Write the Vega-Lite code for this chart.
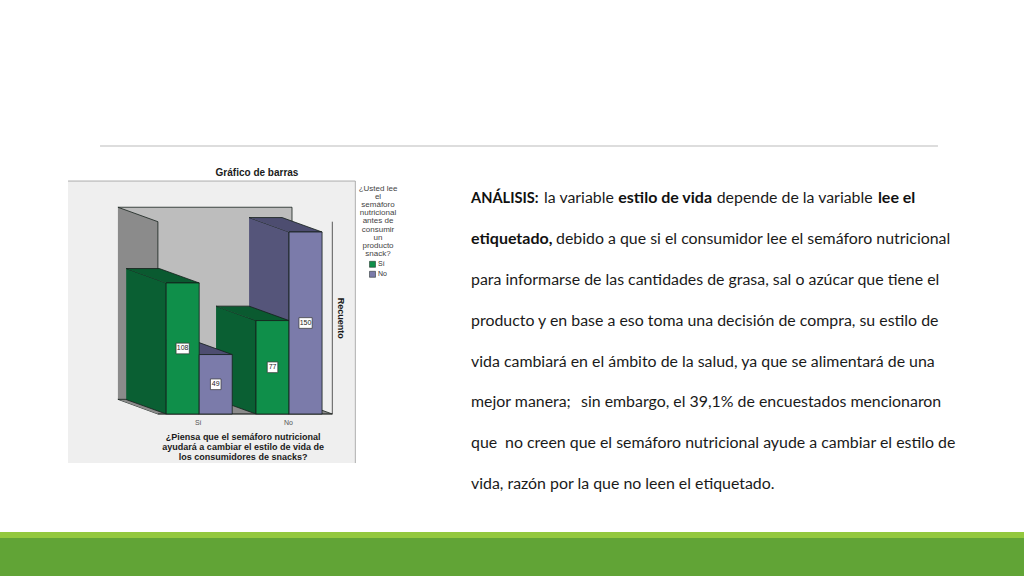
{
  "$schema": "https://vega.github.io/schema/vega-lite/v6.json",
  "width": 1024,
  "height": 576,
  "padding": 0,
  "autosize": "none",
  "background": "white",
  "config": {"view": {"stroke": null}},
  "resolve": {"scale": {"x": "independent", "y": "independent", "fill": "independent", "stroke": "independent"}},
  "datasets": {
    "barras": [
      {"pregunta": "Sí", "lee": "Sí", "recuento": 108, "mitad": 54, "inicio": 0, "fin": 1, "centro": 0.5, "cajaIni": 0.3, "cajaFin": 0.7, "cajaAba": 49.6, "cajaArr": 58.4},
      {"pregunta": "Sí", "lee": "No", "recuento": 49, "mitad": 24.5, "inicio": 1, "fin": 2, "centro": 1.5, "cajaIni": 1.34, "cajaFin": 1.66, "cajaAba": 20.1, "cajaArr": 28.9},
      {"pregunta": "No", "lee": "Sí", "recuento": 77, "mitad": 38.5, "inicio": 2.72, "fin": 3.72, "centro": 3.22, "cajaIni": 3.06, "cajaFin": 3.38, "cajaAba": 34.1, "cajaArr": 42.9},
      {"pregunta": "No", "lee": "No", "recuento": 150, "mitad": 75, "inicio": 3.72, "fin": 4.72, "centro": 4.22, "cajaIni": 4.02, "cajaFin": 4.42, "cajaAba": 70.6, "cajaArr": 79.4}
    ],
    "caras": [
      {"pieza": "fondo", "cara": "fondo", "orden": 1, "u": -1.46, "c": 170.4},
      {"pieza": "fondo", "cara": "fondo", "orden": 2, "u": 3.81, "c": 170.4},
      {"pieza": "fondo", "cara": "fondo", "orden": 3, "u": 3.81, "c": 12.1},
      {"pieza": "fondo", "cara": "fondo", "orden": 4, "u": -1.46, "c": 12.1},
      {"pieza": "pared", "cara": "pared", "orden": 1, "u": -1.46, "c": 170.4},
      {"pieza": "pared", "cara": "pared", "orden": 2, "u": -0.25, "c": 158.5},
      {"pieza": "pared", "cara": "pared", "orden": 3, "u": -0.25, "c": 0},
      {"pieza": "pared", "cara": "pared", "orden": 4, "u": -1.46, "c": 12.1},
      {"pieza": "piso", "cara": "piso", "orden": 1, "u": -1.46, "c": 12.1},
      {"pieza": "piso", "cara": "piso", "orden": 2, "u": 3.81, "c": 12.1},
      {"pieza": "piso", "cara": "piso", "orden": 3, "u": 5.03, "c": 0},
      {"pieza": "piso", "cara": "piso", "orden": 4, "u": -0.25, "c": 0},
      {"pieza": "150 lado", "cara": "morado lado", "orden": 1, "u": 2.51, "c": 11.9},
      {"pieza": "150 lado", "cara": "morado lado", "orden": 2, "u": 3.72, "c": 0},
      {"pieza": "150 lado", "cara": "morado lado", "orden": 3, "u": 3.72, "c": 150},
      {"pieza": "150 lado", "cara": "morado lado", "orden": 4, "u": 2.51, "c": 161.9},
      {"pieza": "150 tapa", "cara": "morado tapa", "orden": 1, "u": 2.51, "c": 161.9},
      {"pieza": "150 tapa", "cara": "morado tapa", "orden": 2, "u": 3.51, "c": 161.9},
      {"pieza": "150 tapa", "cara": "morado tapa", "orden": 3, "u": 4.72, "c": 150},
      {"pieza": "150 tapa", "cara": "morado tapa", "orden": 4, "u": 3.72, "c": 150},
      {"pieza": "77 lado", "cara": "verde lado", "orden": 1, "u": 1.51, "c": 11.9},
      {"pieza": "77 lado", "cara": "verde lado", "orden": 2, "u": 2.72, "c": 0},
      {"pieza": "77 lado", "cara": "verde lado", "orden": 3, "u": 2.72, "c": 77},
      {"pieza": "77 lado", "cara": "verde lado", "orden": 4, "u": 1.51, "c": 88.9},
      {"pieza": "77 tapa", "cara": "verde tapa", "orden": 1, "u": 1.51, "c": 88.9},
      {"pieza": "77 tapa", "cara": "verde tapa", "orden": 2, "u": 2.51, "c": 88.9},
      {"pieza": "77 tapa", "cara": "verde tapa", "orden": 3, "u": 3.72, "c": 77},
      {"pieza": "77 tapa", "cara": "verde tapa", "orden": 4, "u": 2.72, "c": 77},
      {"pieza": "49 lado", "cara": "morado lado", "orden": 1, "u": -0.21, "c": 11.9},
      {"pieza": "49 lado", "cara": "morado lado", "orden": 2, "u": 1, "c": 0},
      {"pieza": "49 lado", "cara": "morado lado", "orden": 3, "u": 1, "c": 49},
      {"pieza": "49 lado", "cara": "morado lado", "orden": 4, "u": -0.21, "c": 60.9},
      {"pieza": "49 tapa", "cara": "morado tapa", "orden": 1, "u": -0.21, "c": 60.9},
      {"pieza": "49 tapa", "cara": "morado tapa", "orden": 2, "u": 0.79, "c": 60.9},
      {"pieza": "49 tapa", "cara": "morado tapa", "orden": 3, "u": 2, "c": 49},
      {"pieza": "49 tapa", "cara": "morado tapa", "orden": 4, "u": 1, "c": 49},
      {"pieza": "108 lado", "cara": "verde lado", "orden": 1, "u": -1.21, "c": 11.9},
      {"pieza": "108 lado", "cara": "verde lado", "orden": 2, "u": 0, "c": 0},
      {"pieza": "108 lado", "cara": "verde lado", "orden": 3, "u": 0, "c": 108},
      {"pieza": "108 lado", "cara": "verde lado", "orden": 4, "u": -1.21, "c": 119.9},
      {"pieza": "108 tapa", "cara": "verde tapa", "orden": 1, "u": -1.21, "c": 119.9},
      {"pieza": "108 tapa", "cara": "verde tapa", "orden": 2, "u": -0.21, "c": 119.9},
      {"pieza": "108 tapa", "cara": "verde tapa", "orden": 3, "u": 1, "c": 108},
      {"pieza": "108 tapa", "cara": "verde tapa", "orden": 4, "u": 0, "c": 108}
    ]
  },
  "layer": [
    {
      "data": {"values": [
        {"p": 0, "p2": 100, "q": 92.36, "q2": 93.4, "franja": "clara"},
        {"p": 0, "p2": 100, "q": 93.4, "q2": 100, "franja": "oscura"}
      ]},
      "mark": {"type": "rect"},
      "encoding": {
        "x": {"field": "p", "type": "quantitative", "scale": {"domain": [0, 100]}, "axis": null},
        "x2": {"field": "p2"},
        "y": {"field": "q", "type": "quantitative", "scale": {"domain": [100, 0]}, "axis": null},
        "y2": {"field": "q2"},
        "fill": {"field": "franja", "type": "nominal", "scale": {"domain": ["clara", "oscura"], "range": ["#93c83e", "#61a436"]}, "legend": null}
      }
    },
    {
      "data": {"values": [{"p": 9.77, "p2": 91.6, "q": 25.35}]},
      "mark": {"type": "rule", "stroke": "#d2d2d2", "strokeWidth": 1.5},
      "encoding": {
        "x": {"field": "p", "type": "quantitative", "scale": {"domain": [0, 100]}, "axis": null},
        "x2": {"field": "p2"},
        "y": {"field": "q", "type": "quantitative", "scale": {"domain": [100, 0]}, "axis": null}
      }
    },
    {
      "data": {"values": [{"u": -2.97, "u2": 5.727, "c": 192, "c2": -40.4}]},
      "mark": {"type": "rect", "fill": "#efefef"},
      "encoding": {
        "x": {"field": "u", "type": "quantitative", "scale": {"domain": [-5.0303, 25.9697]}, "axis": null},
        "x2": {"field": "u2"},
        "y": {"field": "c", "type": "quantitative", "scale": {"domain": [-133.5, 341.2]}, "axis": null},
        "y2": {"field": "c2"}
      }
    },
    {
      "data": {"name": "caras"},
      "mark": {"type": "line", "stroke": "#14201a", "strokeWidth": 0.8, "strokeJoin": "miter"},
      "encoding": {
        "x": {"field": "u", "type": "quantitative", "scale": {"domain": [-5.0303, 25.9697]}, "axis": null},
        "y": {"field": "c", "type": "quantitative", "scale": {"domain": [-133.5, 341.2]}, "axis": null},
        "detail": {"field": "pieza"},
        "order": {"field": "orden"},
        "fill": {
          "field": "cara",
          "type": "nominal",
          "scale": {
            "domain": ["fondo", "pared", "piso", "verde lado", "verde tapa", "morado lado", "morado tapa"],
            "range": ["#bdbdbd", "#8b8b8b", "#8b8b8b", "#0a5f33", "#0a5a30", "#55557a", "#4d4d70"]
          },
          "legend": null
        }
      }
    },
    {
      "data": {"values": [
        {"trazo": "panel", "orden": 1, "u": -2.97, "c": 192},
        {"trazo": "panel", "orden": 2, "u": 5.727, "c": 192},
        {"trazo": "panel", "orden": 3, "u": 5.727, "c": -40.4},
        {"trazo": "ejes", "orden": 1, "u": -0.25, "c": 0},
        {"trazo": "ejes", "orden": 2, "u": 5.03, "c": 0},
        {"trazo": "ejes", "orden": 3, "u": 5.03, "c": 158.5}
      ]},
      "mark": {"type": "line", "strokeWidth": 0.8},
      "encoding": {
        "x": {"field": "u", "type": "quantitative", "scale": {"domain": [-5.0303, 25.9697]}, "axis": null},
        "y": {"field": "c", "type": "quantitative", "scale": {"domain": [-133.5, 341.2]}, "axis": null},
        "order": {"field": "orden"},
        "stroke": {"field": "trazo", "type": "nominal", "scale": {"domain": ["panel", "ejes"], "range": ["#9a9a9a", "#333333"]}, "legend": null}
      }
    },
    {
      "data": {"name": "barras"},
      "mark": {"type": "bar", "stroke": "#14201a", "strokeWidth": 0.8},
      "encoding": {
        "x": {"field": "inicio", "type": "quantitative", "scale": {"domain": [-5.0303, 25.9697]}, "axis": null},
        "x2": {"field": "fin"},
        "y": {"field": "recuento", "type": "quantitative", "scale": {"domain": [-133.5, 341.2]}, "axis": null},
        "y2": {"datum": 0},
        "color": {
          "field": "lee",
          "type": "nominal",
          "scale": {"domain": ["Sí", "No"], "range": ["#0f8f4a", "#7b7baa"]},
          "legend": {
            "orient": "none",
            "legendX": 359,
            "legendY": 185,
            "title": ["¿Usted lee", "el", "semáforo", "nutricional", "antes de", "consumir", "un", "producto", "snack?"],
            "titleFont": "Liberation Sans",
            "titleFontSize": 8,
            "titleFontWeight": "normal",
            "titleColor": "#444444",
            "titleLineHeight": 8.1,
            "titleAlign": "center",
            "titleAnchor": "middle",
            "titlePadding": 3,
            "labelFont": "Liberation Sans",
            "labelFontSize": 7,
            "labelColor": "#333333",
            "labelOffset": 2,
            "symbolType": "square",
            "symbolSize": 36,
            "symbolStrokeColor": "#14201a",
            "symbolStrokeWidth": 0.5,
            "rowPadding": 1
          }
        }
      }
    },
    {
      "data": {"name": "barras"},
      "mark": {"type": "rect", "fill": "white", "stroke": "#333333", "strokeWidth": 0.7},
      "encoding": {
        "x": {"field": "cajaIni", "type": "quantitative", "scale": {"domain": [-5.0303, 25.9697]}, "axis": null},
        "x2": {"field": "cajaFin"},
        "y": {"field": "cajaAba", "type": "quantitative", "scale": {"domain": [-133.5, 341.2]}, "axis": null},
        "y2": {"field": "cajaArr"}
      }
    },
    {
      "data": {"name": "barras"},
      "mark": {"type": "text", "font": "Liberation Sans", "fontSize": 7, "color": "#222222", "baseline": "middle"},
      "encoding": {
        "x": {"field": "centro", "type": "quantitative", "scale": {"domain": [-5.0303, 25.9697]}, "axis": null},
        "y": {"field": "mitad", "type": "quantitative", "scale": {"domain": [-133.5, 341.2]}, "axis": null},
        "text": {"field": "recuento", "type": "quantitative"}
      }
    },
    {
      "data": {"values": [{"texto": "Gráfico de barras", "u": 2.75, "c": 198.6}]},
      "mark": {"type": "text", "font": "Liberation Sans", "fontSize": 10, "fontWeight": "bold", "color": "#1a1a1a", "baseline": "middle"},
      "encoding": {
        "x": {"field": "u", "type": "quantitative", "scale": {"domain": [-5.0303, 25.9697]}, "axis": null},
        "y": {"field": "c", "type": "quantitative", "scale": {"domain": [-133.5, 341.2]}, "axis": null},
        "text": {"field": "texto", "type": "nominal"}
      }
    },
    {
      "data": {"values": [
        {"texto": "¿Piensa que el semáforo nutricional", "u": 2.33, "c": -19},
        {"texto": "ayudará a cambiar el estilo de vida de", "u": 2.33, "c": -27},
        {"texto": "los consumidores de snacks?", "u": 2.33, "c": -35.2}
      ]},
      "mark": {"type": "text", "font": "Liberation Sans", "fontSize": 9, "fontWeight": "bold", "color": "#1a1a1a", "baseline": "middle"},
      "encoding": {
        "x": {"field": "u", "type": "quantitative", "scale": {"domain": [-5.0303, 25.9697]}, "axis": null},
        "y": {"field": "c", "type": "quantitative", "scale": {"domain": [-133.5, 341.2]}, "axis": null},
        "text": {"field": "texto", "type": "nominal"}
      }
    },
    {
      "data": {"values": [{"texto": "Recuento", "u": 5.3, "c": 79}]},
      "mark": {"type": "text", "font": "Liberation Sans", "fontSize": 9, "fontWeight": "bold", "color": "#1a1a1a", "baseline": "middle", "angle": 90},
      "encoding": {
        "x": {"field": "u", "type": "quantitative", "scale": {"domain": [-5.0303, 25.9697]}, "axis": null},
        "y": {"field": "c", "type": "quantitative", "scale": {"domain": [-133.5, 341.2]}, "axis": null},
        "text": {"field": "texto", "type": "nominal"}
      }
    },
    {
      "data": {"values": [
        {"texto": "Sí", "u": 0.97, "c": -7.2},
        {"texto": "No", "u": 3.7, "c": -7.2}
      ]},
      "mark": {"type": "text", "font": "Liberation Sans", "fontSize": 7, "color": "#555555", "baseline": "middle"},
      "encoding": {
        "x": {"field": "u", "type": "quantitative", "scale": {"domain": [-5.0303, 25.9697]}, "axis": null},
        "y": {"field": "c", "type": "quantitative", "scale": {"domain": [-133.5, 341.2]}, "axis": null},
        "text": {"field": "texto", "type": "nominal"}
      }
    },
    {
      "data": {"values": [
        {"renglon": 1, "p": 53.13, "texto": "la variable"},
        {"renglon": 1, "p": 69.99, "texto": "depende de la variable"},
        {"renglon": 2, "p": 54.3, "texto": "debido a que si el consumidor lee el semáforo nutricional"},
        {"renglon": 3, "p": 46.0, "texto": "para informarse de las cantidades de grasa, sal o azúcar que tiene el"},
        {"renglon": 4, "p": 46.0, "texto": "producto y en base a eso toma una decisión de compra, su estilo de"},
        {"renglon": 5, "p": 46.0, "texto": "vida cambiará en el ámbito de la salud, ya que se alimentará de una"},
        {"renglon": 6, "p": 46.0, "texto": "mejor manera;"},
        {"renglon": 6, "p": 56.74, "texto": "sin embargo, el 39,1% de encuestados mencionaron"},
        {"renglon": 7, "p": 46.0, "texto": "que"},
        {"renglon": 7, "p": 49.32, "texto": "no creen que el semáforo nutricional ayude a cambiar el estilo de"},
        {"renglon": 8, "p": 46.0, "texto": "vida, razón por la que no leen el etiquetado."}
      ]},
      "mark": {"type": "text", "font": "Lato", "fontSize": 15.9, "color": "#1a1a1a", "align": "left", "baseline": "alphabetic"},
      "encoding": {
        "x": {"field": "p", "type": "quantitative", "scale": {"domain": [0, 100]}, "axis": null},
        "y": {"field": "renglon", "type": "quantitative", "scale": {"domain": [10.116, -3.95]}, "axis": null},
        "text": {"field": "texto", "type": "nominal"}
      }
    },
    {
      "data": {"values": [
        {"renglon": 1, "p": 60.38, "texto": "estilo de vida"},
        {"renglon": 1, "p": 85.73, "texto": "lee el"},
        {"renglon": 2, "p": 46.0, "texto": "etiquetado,"}
      ]},
      "mark": {"type": "text", "font": "Lato", "fontSize": 16, "fontWeight": "bold", "color": "#111111", "align": "left", "baseline": "alphabetic"},
      "encoding": {
        "x": {"field": "p", "type": "quantitative", "scale": {"domain": [0, 100]}, "axis": null},
        "y": {"field": "renglon", "type": "quantitative", "scale": {"domain": [10.116, -3.95]}, "axis": null},
        "text": {"field": "texto", "type": "nominal"}
      }
    },
    {
      "data": {"values": [{"renglon": 1, "p": 46.0, "texto": "ANÁLISIS:"}]},
      "mark": {"type": "text", "font": "Lato", "fontSize": 14.6, "fontWeight": "bold", "color": "#111111", "align": "left", "baseline": "alphabetic"},
      "encoding": {
        "x": {"field": "p", "type": "quantitative", "scale": {"domain": [0, 100]}, "axis": null},
        "y": {"field": "renglon", "type": "quantitative", "scale": {"domain": [10.116, -3.95]}, "axis": null},
        "text": {"field": "texto", "type": "nominal"}
      }
    }
  ]
}
